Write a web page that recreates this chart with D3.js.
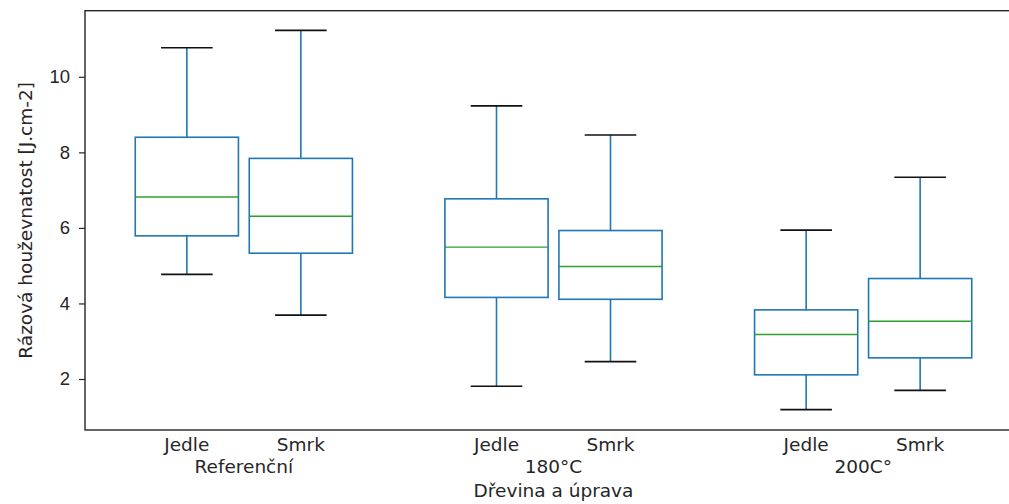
<!DOCTYPE html>
<html>
<head>
<meta charset="utf-8">
<script src="https://cdn.jsdelivr.net/npm/d3@7"></script>
<style>
  body { margin: 0; background: #fff; }
  svg { display: block; font-family: "DejaVu Sans", sans-serif; }
  .axis text { fill: #262626; font-size: 18.5px; }
  .axis path, .axis line { stroke: #262626; }
</style>
</head>
<body>
<div id="chart"></div>
<script>
// groups on the x axis and the two wood species inside each group
const groups = ["Referenční", "180°C", "200C°"];
const species = ["Jedle", "Smrk"];

// box statistics, order: Ref-Jedle, Ref-Smrk, 180-Jedle, 180-Smrk, 200-Jedle, 200-Smrk
const whiskerLow = [4.77, 3.69, 1.81, 2.46, 1.19, 1.70];
const q1 = [5.79, 5.33, 4.16, 4.11, 2.11, 2.56];
const medians = [6.82, 6.31, 5.49, 4.98, 3.18, 3.53];
const q3 = [8.40, 7.84, 6.77, 5.93, 3.83, 4.66];
const whiskerHigh = [10.77, 11.23, 9.23, 8.46, 5.94, 7.34];

const yTicks = [2, 4, 6, 8, 10];

const width = 1009, height = 504;
const margin = {top: 10.7, right: -13, bottom: 74, left: 85};

const svg = d3.select("#chart").append("svg")
    .attr("width", width)
    .attr("height", height);

const plotW = width - margin.left - margin.right;
const plotH = height - margin.top - margin.bottom;

const y = d3.scaleLinear()
    .domain([0.65, 11.75])
    .range([margin.top + plotH, margin.top]);

const xGroup = d3.scalePoint()
    .domain(groups)
    .range([margin.left, margin.left + plotW])
    .padding(0.513);

const xInner = d3.scaleBand()
    .domain(species)
    .range([-114, 114]);

// build a flat table for drawing
let boxes = [];
groups.forEach(function(g, gi) {
    species.forEach(function(s, si) {
        let i = gi * species.length + si;
        boxes.push({
            group: g, species: s,
            lo: whiskerLow[i], q1: q1[i], med: medians[i], q3: q3[i], hi: whiskerHigh[i]
        });
    });
});

const cx = d => xGroup(d.group) + xInner(d.species) + xInner.bandwidth() / 2;
const boxW = xInner.bandwidth() * 0.905;
const capW = boxW / 2;

const blue = "#1f77b4", green = "#2ca02c";

const g = svg.append("g");

// whiskers
g.selectAll(".whisker-lo").data(boxes).enter().append("line")
    .attr("x1", cx).attr("x2", cx)
    .attr("y1", d => y(d.q1)).attr("y2", d => y(d.lo))
    .attr("stroke", blue).attr("stroke-width", 1.6);
g.selectAll(".whisker-hi").data(boxes).enter().append("line")
    .attr("x1", cx).attr("x2", cx)
    .attr("y1", d => y(d.q3)).attr("y2", d => y(d.hi))
    .attr("stroke", blue).attr("stroke-width", 1.6);

// caps
["lo", "hi"].forEach(function(k) {
    g.selectAll(".cap-" + k).data(boxes).enter().append("line")
        .attr("x1", d => cx(d) - capW / 2).attr("x2", d => cx(d) + capW / 2)
        .attr("y1", d => y(d[k])).attr("y2", d => y(d[k]))
        .attr("stroke", "#111").attr("stroke-width", 1.6);
});

// boxes
g.selectAll(".box").data(boxes).enter().append("rect")
    .attr("x", d => cx(d) - boxW / 2)
    .attr("y", d => y(d.q3))
    .attr("width", boxW)
    .attr("height", d => y(d.q1) - y(d.q3))
    .attr("fill", "none")
    .attr("stroke", blue).attr("stroke-width", 1.6);

// medians
g.selectAll(".median").data(boxes).enter().append("line")
    .attr("x1", d => cx(d) - boxW / 2).attr("x2", d => cx(d) + boxW / 2)
    .attr("y1", d => y(d.med)).attr("y2", d => y(d.med))
    .attr("stroke", green).attr("stroke-width", 1.4);

// y axis
const yAxis = svg.append("g")
    .attr("class", "axis")
    .attr("transform", "translate(" + margin.left + ",0)")
    .call(d3.axisLeft(y).tickValues(yTicks).tickSize(6).tickPadding(9));
yAxis.select(".domain").remove();
yAxis.selectAll("line").attr("stroke-width", 1.2);

// frame (right side falls outside the picture)
svg.append("rect")
    .attr("x", margin.left).attr("y", margin.top)
    .attr("width", plotW).attr("height", plotH)
    .attr("fill", "none")
    .attr("stroke", "#262626").attr("stroke-width", 1.4);

// x tick labels: species then group name
const xLab = svg.append("g").attr("class", "axis");
xLab.selectAll(".sp").data(boxes).enter().append("text")
    .attr("x", cx)
    .attr("y", margin.top + plotH + 20.5)
    .attr("text-anchor", "middle")
    .text(d => d.species);
xLab.selectAll(".grp").data(groups).enter().append("text")
    .attr("x", d => xGroup(d))
    .attr("y", margin.top + plotH + 43)
    .attr("text-anchor", "middle")
    .text(d => d);

// axis titles
svg.append("text")
    .attr("x", xGroup(groups[1]))
    .attr("y", margin.top + plotH + 67)
    .attr("text-anchor", "middle")
    .style("fill", "#262626").style("font-size", "18.5px")
    .text("Dřevina a úprava");

svg.append("text")
    .attr("transform", "translate(32," + (margin.top + plotH / 2) + ") rotate(-90)")
    .attr("text-anchor", "middle")
    .style("fill", "#262626").style("font-size", "18.5px")
    .text("Rázová houževnatost [J.cm-2]");
</script>
</body>
</html>
